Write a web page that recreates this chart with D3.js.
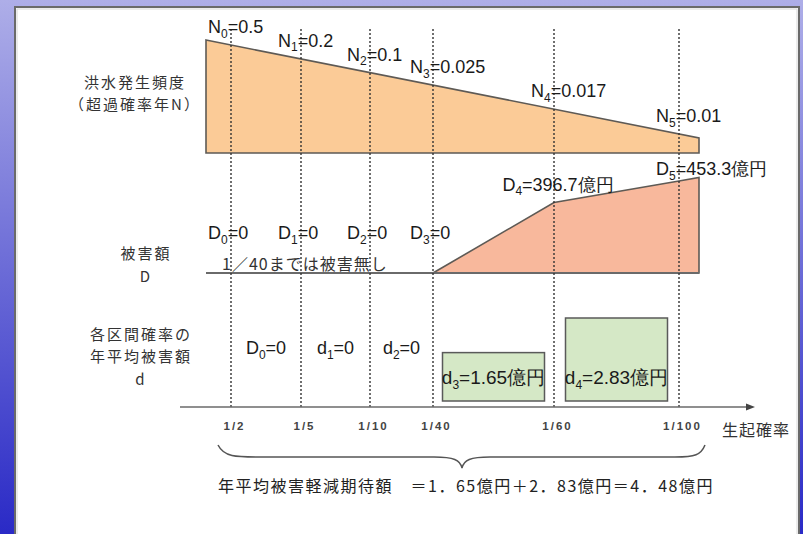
<!DOCTYPE html>
<html><head><meta charset="utf-8">
<script src="https://cdn.jsdelivr.net/npm/d3@7"></script>
<style>html,body{margin:0;padding:0;background:#fff;} svg{display:block;}</style>
</head><body>
<script>
// ---------- data ----------
const categories = ["1/2", "1/5", "1/10", "1/40", "1/60", "1/100"];
const nValues = [0.5, 0.2, 0.1, 0.025, 0.017, 0.01];          // 洪水発生頻度 N
const damageValues = [0, 0, 0, 0, 396.7, 453.3];             // 被害額 D (億円)
const annualValues = [0, 0, 0, 1.65, 2.83];                  // 各区間 年平均被害額 d (億円)
const annualLetters = ["D", "d", "d", "d", "d"];
const rowLabels = [["洪水発生頻度", "（超過確率年N）"], ["被害額", "D"], ["各区間確率の", "年平均被害額", "d"]];
const axisTitle = "生起確率";
const noDamageNote = "1／40までは被害無し";
const totalLabel = "年平均被害軽減期待額";
const unit = "億円";

// ---------- layout ----------
const W = 803, H = 534;
const svg = d3.select("body").append("svg").attr("width", W).attr("height", H);
const defs = svg.append("defs");
const grad = defs.append("linearGradient").attr("id", "bg").attr("x1", 0).attr("y1", 0).attr("x2", 0).attr("y2", 1);
grad.append("stop").attr("offset", 0).attr("stop-color", "#aeaee8");
grad.append("stop").attr("offset", 1).attr("stop-color", "#2a2ac6");
svg.append("rect").attr("width", W).attr("height", H).attr("fill", "url(#bg)");
svg.append("rect").attr("x", 15).attr("y", 7).attr("width", 784).attr("height", 560)
  .attr("fill", "#fff").attr("stroke", "#6a6a6a").attr("stroke-width", 2);
svg.append("rect").attr("x", 17).attr("y", 9).attr("width", 780).attr("height", 560)
  .attr("fill", "none").attr("stroke", "#d8d8d8").attr("stroke-width", 1);

const latin = "'Liberation Sans', Arial, sans-serif";
const cjk = "'Noto Sans CJK JP', sans-serif";

const x = d3.scaleOrdinal(categories, [231, 301, 370, 433, 554, 679]);
const plotLeft = 206, plotRight = 699;
const axisY = 407;

// N band
const yN = d3.scaleLog().domain([0.01, 0.5]).range([134, 45]);
const nBase = 153;
const nx0 = x(categories[0]), nx1 = x(categories[categories.length - 1]);
const ny0 = yN(nValues[0]), ny1 = yN(nValues[nValues.length - 1]);
const nLine = px => ny0 + (ny1 - ny0) * (px - nx0) / (nx1 - nx0);
svg.append("path")
  .attr("d", d3.line()([[plotLeft, nLine(plotLeft)], [plotRight, nLine(plotRight)], [plotRight, nBase], [plotLeft, nBase]]) + "Z")
  .attr("fill", "#fbcb97").attr("stroke", "#5e5a55").attr("stroke-width", 1.6);

// D band
const yD = d3.scalePow().exponent(2).domain([0, 453.3]).range([273, 181]);
const dPts = damageValues.map((v, i) => [x(categories[i]), yD(v)]);
const firstNonZero = damageValues.findIndex(v => v > 0);
const poly = dPts.slice(firstNonZero - 1);
const [pA, pB] = poly.slice(-2);
const extY = pB[1] + (pB[1] - pA[1]) / (pB[0] - pA[0]) * (plotRight - pB[0]);
poly.push([plotRight, extY], [plotRight, yD(0)]);
svg.append("path").attr("d", d3.line()(poly) + "Z")
  .attr("fill", "#f8b89c").attr("stroke", "#5e5a55").attr("stroke-width", 1.6);
svg.append("line").attr("x1", plotLeft).attr("x2", plotRight).attr("y1", yD(0)).attr("y2", yD(0))
  .attr("stroke", "#6a6a6a").attr("stroke-width", 2.2);

// d boxes
const yd = d3.scaleLinear().domain([0, 2.83]).range([axisY - 6, 318]);
const boxW = 102;
annualValues.forEach((v, i) => {
  if (v <= 0) return;
  const cx = (x(categories[i]) + x(categories[i + 1])) / 2;
  svg.append("rect").attr("x", cx - boxW / 2).attr("y", yd(v)).attr("width", boxW).attr("height", yd(0) - yd(v))
    .attr("fill", "#d5e8c6").attr("stroke", "#5a5a5a").attr("stroke-width", 1.5);
});

// dotted verticals
svg.selectAll(".vl").data(categories).join("line")
  .attr("x1", d => x(d)).attr("x2", d => x(d)).attr("y1", 29).attr("y2", axisY)
  .attr("stroke", "#333").attr("stroke-width", 1.4).attr("stroke-dasharray", "2,2");

// axis
svg.append("line").attr("x1", 180).attr("x2", 748).attr("y1", axisY).attr("y2", axisY)
  .attr("stroke", "#6a6a6a").attr("stroke-width", 1.6);
svg.append("path").attr("d", `M746,${axisY - 3.5}L755,${axisY}L746,${axisY + 3.5}Z`).attr("fill", "#444");
const ax = svg.append("g").attr("transform", `translate(3,${axisY})`)
  .call(d3.axisBottom(x).tickSize(0).tickPadding(15));
ax.select(".domain").remove();
ax.selectAll("text").attr("font-family", latin).attr("font-size", 11.5).attr("fill", "#444")
  .attr("letter-spacing", 2).attr("font-weight", "bold");
svg.append("text").attr("x", 722).attr("y", 436).attr("font-family", cjk).attr("font-size", 16)
  .attr("letter-spacing", 1).attr("fill", "#333").text(axisTitle);

// subscript label helper
function subLabel(sel, letter, idx, rest, size, subSize) {
  sel.attr("font-family", latin).attr("font-size", size).attr("fill", "#1a1a1a");
  sel.append("tspan").text(letter);
  sel.append("tspan").attr("font-size", subSize).attr("dy", size * 0.25).text(idx);
  sel.append("tspan").attr("dy", -size * 0.25).text(rest);
}
const fmtVal = (v, withUnit) => v === 0 ? "0" : String(v) + (withUnit ? unit : "");

// N labels
nValues.forEach((v, i) => {
  const px = x(categories[i]);
  const t = svg.append("text").attr("x", px - 23).attr("y", nLine(px) - 12);
  subLabel(t, "N", i, "=" + fmtVal(v), 18, 12);
});

// D labels
damageValues.forEach((v, i) => {
  const px = x(categories[i]);
  const t = svg.append("text");
  if (v === 0) t.attr("x", px - 23).attr("y", 239);
  else if (i < damageValues.length - 1) t.attr("x", px + 4).attr("y", yD(v) - 12).attr("text-anchor", "middle");
  else t.attr("x", px - 23).attr("y", yD(v) - 6);
  subLabel(t, "D", i, "=" + fmtVal(v, true), 18, 12);
});

// no-damage note
svg.append("text").attr("x", 222).attr("y", 270).attr("font-family", cjk).attr("font-size", 16)
  .attr("letter-spacing", 1).attr("fill", "#333").text(noDamageNote);

// d labels
annualValues.forEach((v, i) => {
  const cx = (x(categories[i]) + x(categories[i + 1])) / 2;
  const t = svg.append("text").attr("x", cx).attr("text-anchor", "middle")
    .attr("y", v === 0 ? 354 : yd(0) - 17);
  subLabel(t, annualLetters[i], i, "=" + fmtVal(v, true), v === 0 ? 18 : 19, 12);
});

// row labels
const rowPos = [[135, [88, 110]], [146, [259, 282]], [141, [340, 362, 385]]];
rowLabels.forEach((lines, r) => {
  lines.forEach((s, k) => {
    svg.append("text").attr("x", rowPos[r][0]).attr("y", rowPos[r][1][k]).attr("text-anchor", "middle")
      .attr("font-family", cjk).attr("font-size", 15).attr("letter-spacing", 2).attr("fill", "#333").text(s);
  });
});

// brace
const bx0 = 218, bx1 = 705, bm = 462, by0 = 445, by1 = 457, by2 = 468;
svg.append("path")
  .attr("d", `M${bx0},${by0} C${bx0 + 6},${by1} ${bx0 + 18},${by1} ${bx0 + 40},${by1} L${bm - 28},${by1} C${bm - 8},${by1} ${bm - 2},${by1 + 3} ${bm},${by2} C${bm + 2},${by1 + 3} ${bm + 8},${by1} ${bm + 28},${by1} L${bx1 - 30},${by1} C${bx1 - 10},${by1} ${bx1 - 4},${by1 - 2} ${bx1},${by0}`)
  .attr("fill", "none").attr("stroke", "#555").attr("stroke-width", 1.5);

// total
const fw = v => v.toFixed(2).replace(".", "．");
const pos = annualValues.filter(v => v > 0);
const total = d3.sum(pos);
const totalText = totalLabel + "　＝" + pos.map(v => fw(v) + unit).join("＋") + "＝" + fw(total) + unit;
svg.append("text").attr("x", 218).attr("y", 492).attr("font-family", cjk).attr("font-size", 16)
  .attr("letter-spacing", 1.5).attr("fill", "#222").text(totalText);
</script>
</body></html>
